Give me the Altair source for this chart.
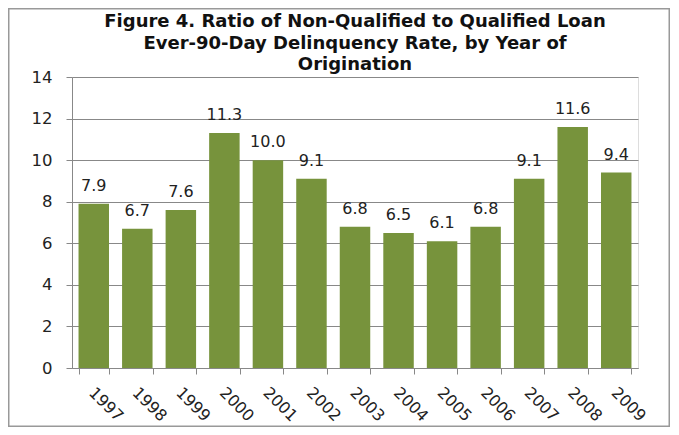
import altair as alt
import pandas as pd

years = ["1997", "1998", "1999", "2000", "2001", "2002", "2003", "2004", "2005", "2006", "2007", "2008", "2009"]
ratios = [7.9, 6.7, 7.6, 11.3, 10.0, 9.1, 6.8, 6.5, 6.1, 6.8, 9.1, 11.6, 9.4]
labels = [f"{v:.1f}" for v in ratios]
title_lines = ["Figure 4. Ratio of Non-Qualified to Qualified Loan",
               "Ever-90-Day Delinquency Rate, by Year of",
               "Origination"]

df = pd.DataFrame({"year": years, "ratio": ratios, "label": labels})

FONT = "DejaVu Sans"

x = alt.X("year:N", sort=years, title=None,
          scale=alt.Scale(paddingInner=0.3, paddingOuter=0.15),
          axis=alt.Axis(labelAngle=45, labelAlign="left", labelBaseline="top",
                        labelFont=FONT, labelFontSize=16, labelColor="#222222",
                        labelPadding=10, labelOffset=3,
                        tickBand="extent", tickColor="#888888", tickSize=6,
                        domainColor="#888888", grid=False))
y = alt.Y("ratio:Q", title=None,
          scale=alt.Scale(domain=[0, 14]),
          axis=alt.Axis(values=list(range(0, 15, 2)), labelFont=FONT, labelFontSize=16.5,
                        labelColor="#222222", labelPadding=14,
                        tickColor="#888888", tickSize=6, domainColor="#888888",
                        gridColor="#888888", gridWidth=1))

frame = alt.Chart(df).mark_rect(filled=False, stroke="#999999", strokeWidth=1.5,
                                clip=False).encode(
    x=alt.value(-63.25), x2=alt.value(597.25), y=alt.value(-68.25), y2=alt.value(349.25)
).transform_filter(alt.datum.year == "1997")

bars = alt.Chart(df).mark_bar(color="#77933C").encode(x=x, y=y)
text = alt.Chart(df).mark_text(font=FONT, fontSize=16, color="#222222",
                               baseline="bottom", dy=-10).encode(
    x=alt.X("year:N", sort=years), y="ratio:Q", text="label:N")

chart = alt.layer(bars, text, frame).properties(
    width=566, height=291,
    title=alt.TitleParams(title_lines, font=FONT, fontSize=18, fontWeight="bold",
                          color="#111111", anchor="middle", dx=0, offset=-66,
                          baseline="top", lineHeight=21.5),
    autosize=alt.AutoSizeParams(type="none"),
    padding={"left": 64, "top": 69, "right": 33, "bottom": 59},
).configure_view(stroke=None).configure(background="white")

chart.save("out.html", embed_options={"renderer": "svg", "actions": False})
